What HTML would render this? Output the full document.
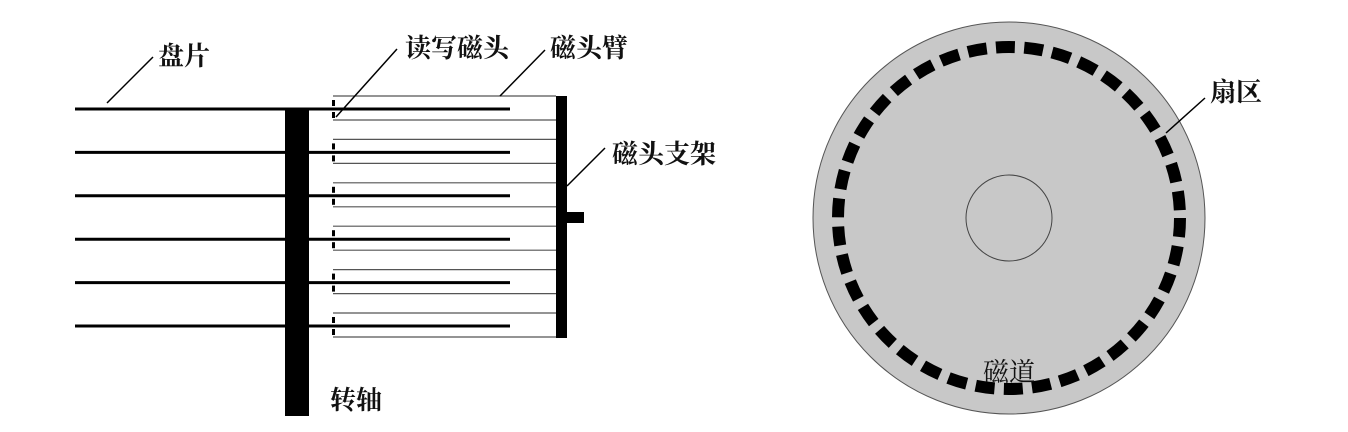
<!DOCTYPE html>
<html><head><meta charset="utf-8"><style>
html,body{margin:0;padding:0;background:#fff;}
svg{display:block;}
text{font-family:"Liberation Serif","Noto Serif CJK SC",serif;font-size:26px;font-weight:bold;fill:#111;}
</style></head><body>
<svg id="fig" width="1348" height="432" viewBox="0 0 1348 432">
<g id="left"></g>
<rect x="285" y="109" width="24" height="307" fill="#000"/>
<rect x="556" y="96" width="11" height="242" fill="#000"/>
<rect x="567" y="212" width="17" height="11" fill="#000"/>
<line x1="107" y1="103" x2="153" y2="57" stroke="#000" stroke-width="1.5"/>
<text x="158" y="65">盘片</text>
<line x1="336" y1="117" x2="397" y2="49" stroke="#000" stroke-width="1.5"/>
<text x="405" y="57">读写磁头</text>
<line x1="500" y1="96" x2="545" y2="50" stroke="#000" stroke-width="1.5"/>
<text x="550" y="57">磁头臂</text>
<line x1="567" y1="186" x2="605" y2="148" stroke="#000" stroke-width="1.5"/>
<text x="612" y="163">磁头支架</text>
<text x="330" y="409">转轴</text>
<circle cx="1009" cy="218" r="196" fill="#c8c8c8" stroke="#555" stroke-width="1"/>
<circle cx="1009" cy="218" r="171" fill="none" stroke="#000" stroke-width="12" stroke-dasharray="19 9.3"/>
<circle cx="1009" cy="218" r="43" fill="none" stroke="#444" stroke-width="1"/>
<text x="983" y="381" style="font-weight:normal">磁道</text>
<line x1="1166" y1="133" x2="1205" y2="98" stroke="#000" stroke-width="1.5"/>
<text x="1210" y="101">扇区</text>
</svg>
<script>
const platterIndex=[0,1,2,3,4,5];
const g=document.getElementById('left');
const NS='http://www.w3.org/2000/svg';
function mk(t,a){const e=document.createElementNS(NS,t);for(const k in a)e.setAttribute(k,a[k]);g.appendChild(e);return e;}
platterIndex.forEach(i=>{
  const y=109+i*43.4;
  const p=mk('line',{x1:75,y1:y,x2:510,y2:y,stroke:'#000','stroke-width':3});
  
  
  [-13,11].forEach(d=>{
    const a=mk('line',{x1:333,y1:y+d,x2:556,y2:y+d,stroke:'#555','stroke-width':1.2});
    
    
    const h=mk('rect',{x:332,y:y+(d<0?-9:3),width:3,height:6,fill:'#000'});
    
    
  });
});
</script>
</body></html>
